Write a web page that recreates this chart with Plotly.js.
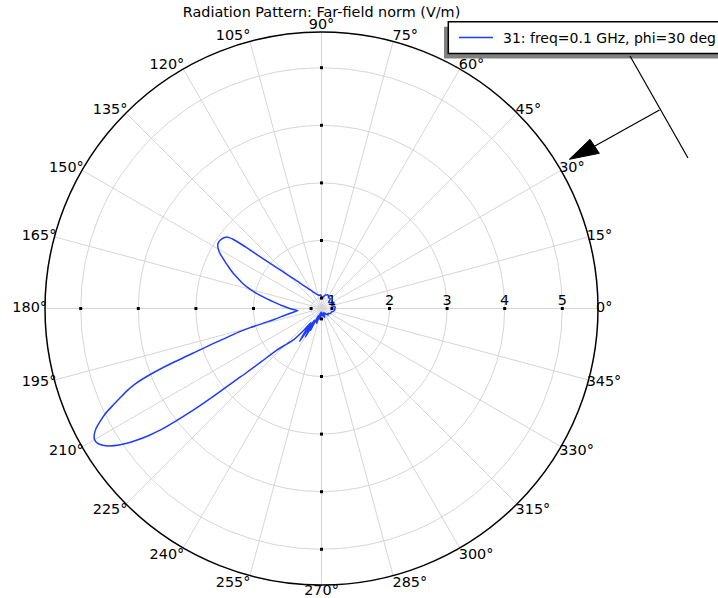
<!DOCTYPE html>
<html><head><meta charset="utf-8">
<script src="https://cdn.plot.ly/plotly-3.0.1.min.js"></script>
<style>html,body{margin:0;padding:0;background:#fff}</style>
</head><body>
<div id="chart" style="width:718px;height:598px"></div>
<script>
// ---- data ----
const theta = [0,5,10,15,20,25,30,35,40,45,50,55,60,65,70,75,80,85,90,95,100,104,110,115,120,125,130,132,134,136,137,138,139,140,140.5,141,141.5,142,142.5,143,144,145,146,147,148,149,150,151,152,153,154.5,156,158,160,162,164,166,168,170,172,174,176,178,180,182,184,185,186,188,190,191.5,193,194,195,196,197,198,199,200,201,202,203,204,205,206,207,208,209,210,211,212,213,214,214.7,215.5,216.3,217,217.7,218.4,219,219.5,220,220.5,221.5,223,225,228.2,231,233,234.5,236,237,238.5,240.5,242,243.5,245,248,252,255,258,261,264,270,275,280,285,290,295,300,305,310,315,320,325,330,335,340,345,350,355,360];
const r = [1.05,1.06,1.04,1.00,1.03,1.06,1.04,1.00,0.98,1.02,1.05,1.04,1.06,1.08,1.07,1.06,1.03,1.00,1.03,1.06,1.05,1.06,1.09,1.13,1.18,1.26,1.39,1.47,1.57,1.71,1.81,1.92,2.06,2.25,2.37,2.51,2.66,2.78,2.84,2.88,2.91,2.93,2.94,2.945,2.94,2.92,2.89,2.85,2.80,2.74,2.66,2.58,2.48,2.37,2.27,2.16,2.04,1.91,1.78,1.67,1.58,1.50,1.43,1.37,1.31,1.26,1.23,1.26,1.34,1.44,1.53,1.65,1.84,2.10,2.34,2.53,2.81,3.12,3.55,3.98,4.30,4.50,4.66,4.83,5.00,5.13,5.25,5.33,5.37,5.36,5.30,5.20,5.06,4.93,4.75,4.55,4.33,4.00,3.66,3.30,2.95,2.72,2.55,2.20,1.88,1.72,1.55,1.30,1.12,1.30,1.50,1.30,1.05,1.39,1.10,1.24,0.95,1.05,1.09,0.90,1.00,1.00,0.88,0.92,0.95,0.90,0.95,0.98,0.93,0.90,0.92,0.95,0.98,0.96,0.97,0.99,1.00,1.00,1.02,1.04,1.05,1.05];
const radialTicks = [1,2,3,4,5];
const radialRange = [0.819, 5.62];
const angleTicks = [0,15,30,45,60,75,90,105,120,135,150,165,180,195,210,225,240,255,270,285,300,315,330,345];
const angleTickLabels = ['0°','15°','30°','45°','60°','75°','90°','105°','120°','135°','150°','165°','180°','195°','210°','225°','240°','255°','270°','285°','300°','315°','330°','345°'];
const tickAxes = [0,90,180,270];
const seriesName = '31: freq=0.1 GHz, phi=30 deg';
const titleText = 'Radiation Pattern: Far-field norm (V/m)';

// ---- layout helpers ----
const W = 718, H = 598;
const px = x => x / W;
const py = y => 1 - y / H;
const FONT = 'DejaVu Sans, Liberation Sans, sans-serif';
const FS = 14.4;
const BLUE = '#1e3cff';

const tickR = [], tickT = [];
tickAxes.forEach(a => radialTicks.forEach(v => { tickR.push(v); tickT.push(a); }));

const traces = [
  {type:'scatterpolar', subplot:'polar', mode:'lines', r:r, theta:theta, name:seriesName,
   line:{color:BLUE, width:1.5, shape:'spline', smoothing:0.5}, showlegend:false, hoverinfo:'skip'},
  {type:'scatterpolar', subplot:'polar', mode:'markers', r:tickR, theta:tickT,
   marker:{symbol:'square', size:3, color:'#000', line:{width:0}}, showlegend:false, hoverinfo:'skip'},
  // carrier for the angular tick labels (drawn on an invisible polar frame of nearly the same size)
  {type:'scatterpolar', subplot:'polar2', mode:'markers', r:[radialTicks[0]], theta:[angleTicks[0]],
   marker:{opacity:0}, showlegend:false, hoverinfo:'skip'}
];

const cx = 321.5, cy = 308.5, R = 276.5, R2 = R - 2.5, cy2 = cy - 2;

const layout = {
  width:W, height:H, margin:{l:0,r:0,t:0,b:0},
  paper_bgcolor:'#fff', showlegend:false,
  font:{family:FONT, size:FS, color:'#000'},
  title:{text:titleText, font:{family:FONT, size:FS, color:'#000'},
         xref:'paper', x:px(cx), xanchor:'center', yref:'container', y:py(12), yanchor:'middle'},
  polar:{
    domain:{x:[px(cx-R), px(cx+R)], y:[py(cy+R), py(cy-R)]},
    bgcolor:'#fff',
    radialaxis:{range:radialRange, tickmode:'array', tickvals:radialTicks, angle:0, side:'counterclockwise',
      showline:false, ticks:'', gridcolor:'#d6d6d6', gridwidth:1,
      tickfont:{family:FONT, size:FS, color:'#000'}},
    angularaxis:{tickmode:'array', tickvals:angleTicks, direction:'counterclockwise', rotation:0,
      showline:true, linecolor:'#000', linewidth:1.5, ticks:'', showticklabels:false,
      gridcolor:'#d6d6d6', gridwidth:1}
  },
  polar2:{
    domain:{x:[px(cx-R2), px(cx+R2)], y:[py(cy2+R2), py(cy2-R2)]},
    bgcolor:'rgba(0,0,0,0)',
    radialaxis:{visible:false, range:radialRange},
    angularaxis:{tickmode:'array', tickvals:angleTicks, ticktext:angleTickLabels, direction:'counterclockwise', rotation:0,
      showline:false, showgrid:false, ticks:'',
      tickfont:{family:FONT, size:FS, color:'#000'}}
  },
  shapes:[
    {type:'rect', xref:'paper', yref:'paper', x0:px(444), x1:px(730), y0:py(58.5), y1:py(26.7),
     fillcolor:'#808080', line:{width:0}},
    {type:'rect', xref:'paper', yref:'paper', x0:px(448.3), x1:px(730), y0:py(53.5), y1:py(21.7),
     fillcolor:'#fff', line:{color:'#000', width:1.5}},
    {type:'line', xref:'paper', yref:'paper', x0:px(459), x1:px(493), y0:py(37.5), y1:py(37.5),
     line:{color:BLUE, width:1.5}},
    {type:'line', xref:'paper', yref:'paper', x0:px(630), y0:py(56), x1:px(688), y1:py(158),
     line:{color:'#000', width:1.2}},
    {type:'line', xref:'paper', yref:'paper', x0:px(659.5), y0:py(110), x1:px(594), y1:py(146.5),
     line:{color:'#000', width:1.2}},
    {type:'path', xref:'paper', yref:'paper',
     path:'M '+px(569.3)+' '+py(159.3)+' L '+px(590)+' '+py(139.3)+' L '+px(599.3)+' '+py(153.3)+' Z',
     fillcolor:'#000', line:{color:'#000', width:1}}
  ],
  annotations:[
    {xref:'paper', yref:'paper', x:px(501), y:py(37.5), xanchor:'left', yanchor:'middle', showarrow:false,
     text:seriesName, font:{family:FONT, size:14, color:'#000'}}
  ]
};

Plotly.newPlot('chart', traces, layout, {staticPlot:true, displayModeBar:false});
</script>
</body></html>
